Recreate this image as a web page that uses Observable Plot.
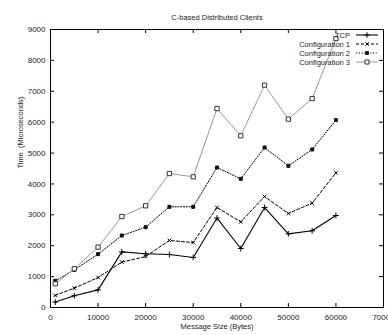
<!DOCTYPE html>
<html>
<head>
<meta charset="utf-8">
<script src="https://cdn.jsdelivr.net/npm/d3@7"></script>
<script src="https://cdn.jsdelivr.net/npm/@observablehq/plot@0.6"></script>
<style>
  html, body { margin: 0; padding: 0; background: #fff; }
  #chart svg { display: block; }
</style>
</head>
<body>
<div id="chart"></div>
<script>
const sizes   = [1000, 5000, 10000, 15000, 20000, 25000, 30000, 35000, 40000, 45000, 50000, 55000, 60000];
const tcp     = [175, 380, 570, 1800, 1740, 1715, 1620, 2895, 1910, 3237, 2385, 2483, 2978];
const config1 = [390, 628, 970, 1470, 1650, 2170, 2105, 3237, 2774, 3593, 3043, 3380, 4360];
const config2 = [864, 1220, 1728, 2330, 2600, 3260, 3260, 4532, 4166, 5180, 4587, 5115, 6066];
const config3 = [767, 1253, 1955, 2946, 3292, 4337, 4231, 6440, 5558, 7198, 6098, 6765, 8707];
const seriesNames = ["TCP", "Configuration 1", "Configuration 2", "Configuration 3"];
const xTicks = [0, 10000, 20000, 30000, 40000, 50000, 60000, 70000];
const yTicks = [0, 1000, 2000, 3000, 4000, 5000, 6000, 7000, 8000, 9000];
const title = "C-based Distributed Clients";
const xLabel = "Message Size (Bytes)";
const yLabel = "Time  (Microseconds)";

const W = 388, H = 335;
const mL = 50, mR = 5, mT = 29, mB = 28;
const innerW = W - mL - mR, innerH = H - mT - mB;
const tickLen = 4;
const font = "'Liberation Sans', Arial, sans-serif";

const styles = [
  {stroke: "#000", dash: null, width: 1.1, symbol: "plus", r: 2, mfill: "none", mstroke: "#000"},
  {stroke: "#000", dash: "3,2", width: 1, symbol: "times", r: 1.8, mfill: "none", mstroke: "#000"},
  {stroke: "#000", dash: "1.2,1.6", width: 1, symbol: "square", r: 1.7, mfill: "#111", mstroke: "#111"},
  {stroke: "#999", dash: null, width: 1, symbol: "square", r: 2.4, mfill: "#fff", mstroke: "#333"}
];
const values = [tcp, config1, config2, config3];
const rows = values.map((vals, i) => sizes.map((x, j) => ({x, y: vals[j], s: seriesNames[i]})));

const marks = [];
rows.forEach((data, i) => {
  const st = styles[i];
  marks.push(Plot.line(data, {x: "x", y: "y", stroke: st.stroke, strokeWidth: st.width, strokeDasharray: st.dash}));
});
rows.forEach((data, i) => {
  const st = styles[i];
  marks.push(Plot.dot(data, {x: "x", y: "y", symbol: () => st.symbol, r: st.r, fill: st.mfill, stroke: st.mstroke, strokeWidth: 1}));
});

const plot = Plot.plot({
  width: W, height: H,
  marginLeft: mL, marginRight: mR, marginTop: mT, marginBottom: mB,
  style: {fontFamily: font, fontSize: "8px", background: "#fff", overflow: "hidden"},
  x: {domain: [0, 70000]},
  y: {domain: [0, 9000]},
  marks: [
    Plot.ruleX(xTicks, {insetTop: innerH - tickLen, stroke: "#000"}),
    Plot.ruleX(xTicks, {insetBottom: innerH - tickLen, stroke: "#000"}),
    Plot.ruleY(yTicks, {insetRight: innerW - tickLen, stroke: "#000"}),
    Plot.ruleY(yTicks, {insetLeft: innerW - tickLen, stroke: "#000"}),
    Plot.axisX({ticks: xTicks, tickSize: 0, tickPadding: 7, tickFormat: d => String(d), label: null, fontSize: 8, fill: "#222"}),
    Plot.axisY({ticks: yTicks, tickSize: 0, tickPadding: 5, tickFormat: d => String(d), label: null, fontSize: 8, fill: "#222"}),
    ...marks,
    Plot.frame({stroke: "#000", strokeWidth: 1}),
    Plot.text([title], {frameAnchor: "top", dy: -15, text: d => d, fontSize: 7.5, fill: "#222"}),
    Plot.text([xLabel], {frameAnchor: "bottom", dy: 21, text: d => d, fontSize: 7.5, fill: "#222"}),
    Plot.text([yLabel], {frameAnchor: "left", dx: -30, rotate: -90, text: d => d, fontSize: 7.5, fill: "#222"})
  ]
});
document.getElementById("chart").appendChild(plot);

// Legend (top-right inside the frame), built from the series names and styles
const svg = d3.select(plot);
const lg = svg.append("g").attr("font-family", font).attr("font-size", 7.5);
const textRight = W - mR - 33, lineX1 = W - mR - 27, lineX2 = W - mR - 5, rowY0 = mT + 6, rowH = 9;
const symArea = r => 3 * r * r * 1.6;
seriesNames.forEach((name, i) => {
  const st = styles[i];
  const y = rowY0 + i * rowH;
  lg.append("text").attr("x", textRight).attr("y", y).attr("dy", "0.35em").attr("text-anchor", "end").attr("fill", "#222").text(name);
  lg.append("line").attr("x1", lineX1).attr("x2", lineX2).attr("y1", y).attr("y2", y)
    .attr("stroke", st.stroke).attr("stroke-width", st.width).attr("stroke-dasharray", st.dash);
  const type = st.symbol === "plus" ? d3.symbolPlus : st.symbol === "times" ? d3.symbolTimes : d3.symbolSquare;
  const sym = d3.symbol(type, Math.PI * st.r * st.r * 0.9);
  lg.append("path").attr("transform", `translate(${(lineX1 + lineX2) / 2},${y})`).attr("d", sym())
    .attr("fill", st.mfill).attr("stroke", st.mstroke).attr("stroke-width", 1);
});
</script>
</body>
</html>
